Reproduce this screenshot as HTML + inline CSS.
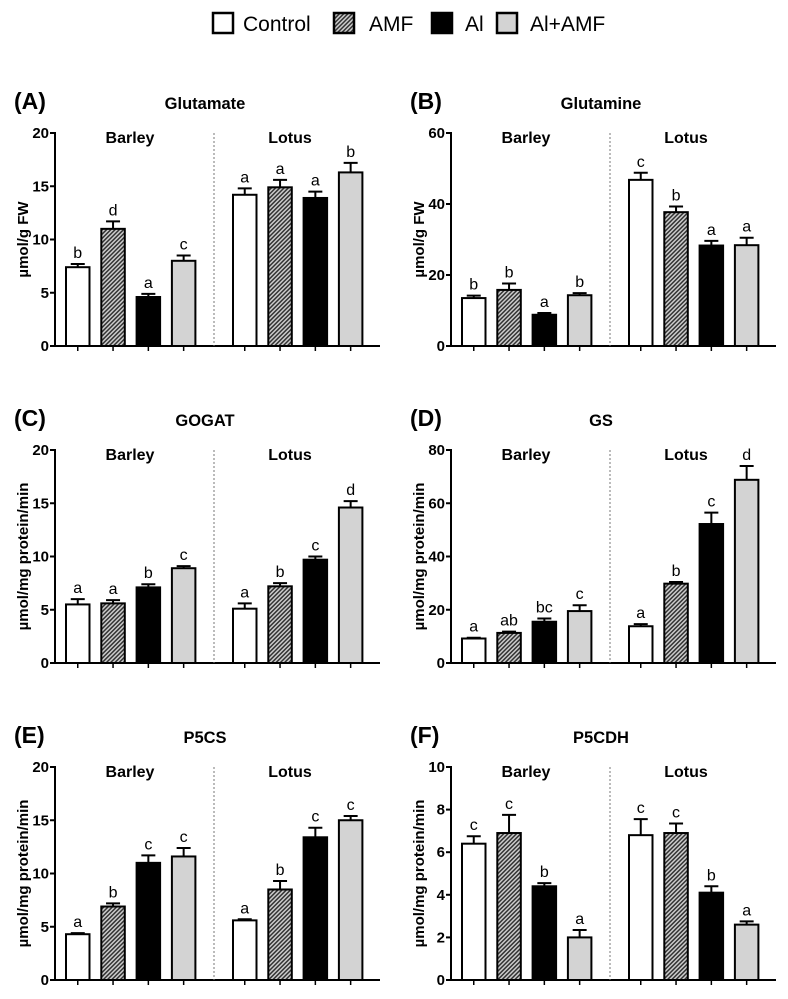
<!DOCTYPE html>
<html><head><meta charset="utf-8"><style>
body{margin:0;background:#fff;width:788px;height:999px;overflow:hidden;font-family:"Liberation Sans",Arial,sans-serif}
svg{position:absolute;left:0;top:0}
</style></head><body>
<svg id="fig" width="788" height="999" viewBox="0 0 788 999">
<defs>
<pattern id="hatch" patternUnits="userSpaceOnUse" width="3" height="3" patternTransform="rotate(45)">
<rect width="3" height="3" fill="#ccc"/><rect width="1.5" height="3" fill="#333"/>
</pattern>
</defs>
<g font-size="21">
<rect x="213" y="13" width="20" height="20" fill="#fff" stroke="#000" stroke-width="2.5"/>
<text x="243" y="31">Control</text>
<rect x="334" y="13" width="20" height="20" fill="url(#hatch)" stroke="#000" stroke-width="2.5"/>
<text x="369" y="31">AMF</text>
<rect x="432" y="13" width="20" height="20" fill="#000" stroke="#000" stroke-width="2.5"/>
<text x="465" y="31">Al</text>
<rect x="497" y="13" width="20" height="20" fill="#d3d3d3" stroke="#000" stroke-width="2.5"/>
<text x="530" y="31">Al+AMF</text>
</g>
</svg>
<script>
const panelLabels=["(A)","(B)","(C)","(D)","(E)","(F)"];
const panelTitles=["Glutamate","Glutamine","GOGAT","GS","P5CS","P5CDH"];
const yTitles=["µmol/g FW","µmol/g FW","µmol/mg protein/min","µmol/mg protein/min","µmol/mg protein/min","µmol/mg protein/min"];
const yMax=[20,60,20,80,20,10];
const yTicks=[[0,5,10,15,20],[0,20,40,60],[0,5,10,15,20],[0,20,40,60,80],[0,5,10,15,20],[0,2,4,6,8,10]];
const groups=["Barley","Lotus"];
const barleyVals=[[7.4,11.0,4.6,8.0],[13.5,15.8,8.8,14.3],[5.5,5.6,7.1,8.9],[9.2,11.3,15.5,19.5],[4.3,6.9,11.0,11.6],[6.4,6.9,4.4,2.0]];
const barleyErr=[[0.3,0.7,0.3,0.5],[0.7,1.8,0.5,0.6],[0.5,0.3,0.3,0.2],[0.3,0.5,1.2,2.2],[0.1,0.3,0.7,0.8],[0.35,0.85,0.15,0.35]];
const lotusVals=[[14.2,14.9,13.9,16.3],[46.8,37.7,28.3,28.4],[5.1,7.2,9.7,14.6],[13.8,29.8,52.2,68.8],[5.6,8.5,13.4,15.0],[6.8,6.9,4.1,2.6]];
const lotusErr=[[0.6,0.7,0.6,0.9],[2.0,1.6,1.3,2.1],[0.5,0.3,0.3,0.6],[0.8,0.6,4.3,5.2],[0.1,0.8,0.9,0.4],[0.75,0.45,0.3,0.15]];
const barleyLetters=[["b","d","a","c"],["b","b","a","b"],["a","a","b","c"],["a","ab","bc","c"],["a","b","c","c"],["c","c","b","a"]];
const lotusLetters=[["a","a","a","b"],["c","b","a","a"],["a","b","c","d"],["a","b","c","d"],["a","b","c","c"],["c","c","b","a"]];
const treatments=["control","amf","al","al-amf"];
const fills=["#fff","url(#hatch)","#000","#d3d3d3"];

const svg=document.getElementById('fig');
const NS="http://www.w3.org/2000/svg";
function mk(tag,attrs,parent){const e=document.createElementNS(NS,tag);for(const k in attrs)e.setAttribute(k,attrs[k]);parent.appendChild(e);return e;}

for(let p=0;p<6;p++){
  const col=p%2,row=Math.floor(p/2);
  const ox=col*396, oy=row*317;
  const ax=55+ox, top=133+oy, bot=346+oy, axEnd=380+ox;
  const y=v=>bot-(v/yMax[p])*(bot-top);
  const g=mk('g',{},svg);
  
  
  const pl=mk('text',{x:14+ox,y:109+oy,'font-size':23,'font-weight':'bold'},g);pl.textContent=panelLabels[p];
  
  
  const tt=mk('text',{x:205+ox,y:109+oy,'font-size':16.5,'font-weight':'bold','text-anchor':'middle'},g);tt.textContent=panelTitles[p];
  
  
  const yt=mk('text',{x:0,y:0,'font-size':15,'font-weight':'bold','text-anchor':'middle',transform:`translate(${ax-27},${(top+bot)/2}) rotate(-90)`},g);yt.textContent=yTitles[p];
  
  
  const ya=mk('line',{x1:ax,y1:top-1,x2:ax,y2:bot+1,stroke:'#000','stroke-width':2},g);
  
  
  const xa=mk('line',{x1:ax-1,y1:bot,x2:axEnd,y2:bot,stroke:'#000','stroke-width':2},g);
  
  
  yTicks[p].forEach(t=>{
    const tl=mk('line',{x1:ax-5,y1:y(t),x2:ax,y2:y(t),stroke:'#000','stroke-width':2},g);
    
    
    const tx=mk('text',{x:ax-6,y:y(t)+5,'font-size':15,'font-weight':'bold','text-anchor':'end'},g);tx.textContent=t;
    
    
  });
  const dv=mk('line',{x1:214+ox,y1:top,x2:214+ox,y2:bot,stroke:'#777','stroke-width':1,'stroke-dasharray':'2,2'},g);
  
  
  [[groups[0],130],[groups[1],290]].forEach(([n,cx])=>{
    const gt=mk('text',{x:cx+ox,y:top+10,'font-size':16,'font-weight':'bold','text-anchor':'middle'},g);gt.textContent=n;
    
    
  });
  const sets=[[barleyVals[p],barleyErr[p],barleyLetters[p],66,'barley'],[lotusVals[p],lotusErr[p],lotusLetters[p],233,'lotus']];
  sets.forEach(([vals,errs,lets,x0,gn])=>{
    vals.forEach((v,i)=>{
      const bx=x0+ox+i*35.3, bw=23.5, cx=bx+bw/2;
      const r=mk('rect',{x:bx,y:y(v),width:bw,height:bot-y(v),fill:fills[i],stroke:'#000','stroke-width':2},g);
      
      
      const ey=y(v+errs[i]);
      const e1=mk('path',{d:`M${cx},${y(v)}V${ey}M${cx-7},${ey}H${cx+7}`,stroke:'#000','stroke-width':2,fill:'none'},g);
      
      
      const lt=mk('text',{x:cx,y:ey-6,'font-size':16,'text-anchor':'middle'},g);lt.textContent=lets[i];
      
      
      const xt=mk('line',{x1:cx,y1:bot,x2:cx,y2:bot+5,stroke:'#000','stroke-width':1.5},g);
      
      
    });
  });
}
</script>
</body></html>
